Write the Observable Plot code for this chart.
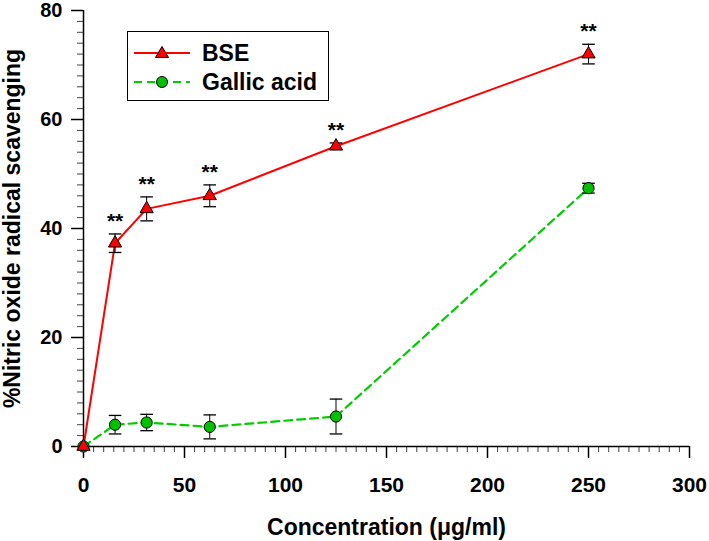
<!DOCTYPE html>
<html>
<head>
<meta charset="utf-8">
<script src="https://cdn.jsdelivr.net/npm/d3@7"></script>
<script src="https://cdn.jsdelivr.net/npm/@observablehq/plot@0.6"></script>
<style>
  html, body { margin: 0; padding: 0; background: #fff; }
  #wrap { position: relative; width: 709px; height: 541px; font-family: "Liberation Sans", Arial, sans-serif; }
  #legend { position: absolute; left: 127px; top: 31px; width: 202px; height: 70px; border: 1px solid #000; background: #fff; box-sizing: border-box; }
  .row { position: absolute; left: 0; height: 28px; display: flex; align-items: center; }
  .row span { font-weight: bold; font-size: 23px; color: #000; position: absolute; left: 74px; white-space: nowrap; line-height: 28px; }
  .row svg { position: absolute; left: 5px; }
</style>
</head>
<body>
<div id="wrap">
  <div id="chart"></div>
  <div id="legend">
    <div class="row" style="top:7px">
      <svg width="58" height="28"><line x1="1" y1="14" x2="57" y2="14" stroke="#ff0000" stroke-width="2"/><path d="M29,7.5 L35.5,18.5 L22.5,18.5 Z" fill="#ff0000" stroke="#000" stroke-width="1"/></svg>
      <span>BSE</span>
    </div>
    <div class="row" style="top:36px">
      <svg width="58" height="28"><line x1="1" y1="14" x2="57" y2="14" stroke="#00cc00" stroke-width="2" stroke-dasharray="8,5"/><circle cx="29" cy="14" r="5.5" fill="#00c000" stroke="#000" stroke-width="1"/></svg>
      <span>Gallic acid</span>
    </div>
  </div>
</div>
<script>
// Concentrations (µg/ml)
const conc = [0, 15.625, 31.25, 62.5, 125, 250];
// BSE mean and SD
const bseMean = [0, 37.3, 43.6, 46.0, 55.1, 72.0];
const bseErr  = [0, 1.7, 2.2, 2.0, 0.6, 1.8];
// Gallic acid mean and SD
const gaMean = [0, 4.0, 4.4, 3.6, 5.5, 47.4];
const gaErr  = [0, 1.7, 1.5, 2.2, 3.2, 0.9];
// significance labels for BSE
const bseSig = ["", "**", "**", "**", "**", "**"];

const xTicks = [0, 50, 100, 150, 200, 250, 300];
const yTicks = [0, 20, 40, 60, 80];

const bse = conc.map((x, i) => ({x, y: bseMean[i], lo: bseMean[i] - bseErr[i], hi: bseMean[i] + bseErr[i], sig: bseSig[i]}));
const ga = conc.map((x, i) => ({x, y: gaMean[i], lo: gaMean[i] - gaErr[i], hi: gaMean[i] + gaErr[i]}));
const bseE = bse.filter(d => d.hi > d.lo);
const gaE = ga.filter(d => d.hi > d.lo);

const cap = { draw(ctx, size) { const r = Math.sqrt(size / Math.PI); ctx.moveTo(-r, 0); ctx.lineTo(r, 0); } };

const font = "'Liberation Sans', Arial, sans-serif";

const chart = Plot.plot({
  width: 709,
  height: 541,
  marginLeft: 83,
  marginRight: 20,
  marginTop: 10,
  marginBottom: 95,
  style: { fontFamily: font, background: "#fff", overflow: "visible" },
  x: { domain: [0, 300] },
  y: { domain: [0, 80] },
  marks: [
    // minor ticks
    Plot.axisX({ ticks: d3.range(0, 301, 5), tickSize: 6, text: null, label: null, stroke: "#444", strokeWidth: 1 }),
    Plot.axisY({ ticks: d3.range(0, 81, 2), tickSize: 6, text: null, label: null, stroke: "#444", strokeWidth: 1 }),
    // major ticks
    Plot.axisX({ ticks: xTicks, tickSize: 12, tickPadding: 19, tickFormat: d => d, fontSize: 21, fontWeight: "bold", stroke: "#000", strokeWidth: 1.5, label: null }),
    Plot.axisY({ ticks: yTicks, tickSize: 12, tickPadding: 9, tickFormat: d => d, fontSize: 20, fontWeight: "bold", stroke: "#000", strokeWidth: 1.5, label: null }),
    Plot.ruleY([0], { stroke: "#000", strokeWidth: 1.5 }),
    Plot.ruleX([0], { stroke: "#000", strokeWidth: 1.5 }),
    // axis labels
    Plot.text(["Concentration (\u03bcg/ml)"], { frameAnchor: "bottom", dy: 81, lineAnchor: "middle", fontSize: 23, fontWeight: "bold", fill: "#000" }),
    Plot.text(["%Nitric oxide radical scavenging"], { frameAnchor: "left", dx: -71, rotate: -90, lineAnchor: "middle", textAnchor: "middle", fontSize: 23, fontWeight: "bold", fill: "#000" }),
    // Gallic acid
    Plot.line(ga, { x: "x", y: "y", stroke: "#00cc00", strokeWidth: 2.2, strokeDasharray: "8,5" }),
    Plot.ruleX(gaE, { x: "x", y1: "lo", y2: "hi", stroke: "#000", strokeWidth: 1 }),
    Plot.dot(gaE, { x: "x", y: "lo", symbol: cap, r: 6.3, stroke: "#000", strokeWidth: 1.3 }),
    Plot.dot(gaE, { x: "x", y: "hi", symbol: cap, r: 6.3, stroke: "#000", strokeWidth: 1.3 }),
    Plot.dot(ga, { x: "x", y: "y", r: 5.6, fill: "#00c000", stroke: "#000", strokeWidth: 1 }),
    // BSE
    Plot.line(bse, { x: "x", y: "y", stroke: "#ff0000", strokeWidth: 2 }),
    Plot.ruleX(bseE, { x: "x", y1: "lo", y2: "hi", stroke: "#000", strokeWidth: 1 }),
    Plot.dot(bseE, { x: "x", y: "lo", symbol: cap, r: 6.3, stroke: "#000", strokeWidth: 1.3 }),
    Plot.dot(bseE, { x: "x", y: "hi", symbol: cap, r: 6.3, stroke: "#000", strokeWidth: 1.3 }),
    Plot.dot(bse, { x: "x", y: "y", symbol: "triangle", r: 4.9, fill: "#ff0000", stroke: "#000", strokeWidth: 1 }),
    Plot.text(bseE, { x: "x", y: "hi", text: "sig", dy: -6, lineAnchor: "bottom", fontSize: 21, fontWeight: "bold", fill: "#000" })
  ]
});
document.getElementById("chart").appendChild(chart);
</script>
</body>
</html>
